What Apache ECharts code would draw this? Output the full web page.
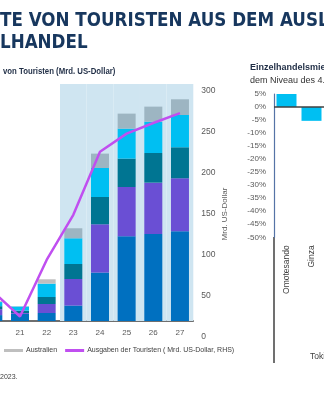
<!DOCTYPE html>
<html>
<head>
<meta charset="utf-8">
<script src="https://cdn.jsdelivr.net/npm/echarts@6/dist/echarts.min.js"></script>
<style>
  html, body { margin: 0; padding: 0; background: #ffffff; overflow: hidden; width: 324px; height: 400px; position: relative; }
  /* the drawing surface starts a little left of the page so the 2020 column sits partly off-edge */
  #chart { position: absolute; left: -20px; top: 0; width: 344px; height: 400px; }
</style>
</head>
<body>
<div id="chart"></div>
<script>
// Tourist arrivals by origin (stacked bars) and tourist spending (line, RHS)
const years = ['20', '21', '22', '23', '24', '25', '26', '27'];
const forecastYears = ['23', '24', '25', '26', '27'];
const china     = [1.0, 1.2, 1.35, 2.6, 8.17, 14.3, 14.68, 15.14];
const korea     = [1.0, 0.15, 1.52, 4.49, 8.15, 8.32, 8.67, 8.95];
const taiwan    = [0.5, 0.4, 1.18, 2.53, 4.61, 4.79, 5.0, 5.23];
const hongkong  = [0.7, 0.7, 2.26, 4.34, 4.89, 5.06, 5.3, 5.45];
const australia = [0.15, 0.05, 0.73, 1.69, 2.43, 2.53, 2.53, 2.65];
const spending  = [55, 25, 94, 149, 226, 248, 261, 273];
const spendingTicks = { min: 0, max: 300, step: 50 };
const arrivalsMax = 40;

// Retail rents vs. Q4 level, Tokyo districts (%)
const districts = ['Omotesando', 'Ginza'];
const rentChange = [5.5, -5.3];
const rentTicks = { min: -50, max: 5, step: 5 };

const OFF = 20; // page x = chart x - OFF
const sans = "'Liberation Sans', Arial, sans-serif";
const axisGray = '#595959';

const colors = {
  china: '#0070C0',
  korea: '#6A4FD4',
  taiwan: '#007592',
  hongkong: '#00BFF2',
  australia: '#BFBFBF',
  australiaShaded: '#9DB5C2',
  shade: '#CFE5F1',
  line: '#C04FF0'
};

const chart = echarts.init(document.getElementById('chart'), null, { renderer: 'canvas' });

function stackSeries(name, data, color) {
  return {
    name, type: 'bar', stack: 'arrivals', xAxisIndex: 0, yAxisIndex: 0,
    barWidth: 18, data, itemStyle: { color }, z: 3, silent: true
  };
}

const option = {
  animation: false,
  backgroundColor: '#ffffff',
  grid: [
    { left: 0, width: 213.3, top: 84, height: 237 },
    { left: 0, width: 213.3, top: 91, height: 246 },
    { left: 274 + OFF, width: 60, top: 94, height: 143.3 }
  ],
  xAxis: [
    {
      gridIndex: 0, type: 'category', data: years,
      axisLine: { lineStyle: { color: '#404040', width: 1.5 } },
      axisTick: { show: false },
      axisLabel: { color: axisGray, fontSize: 8, fontFamily: sans, margin: 8 }
    },
    { gridIndex: 0, type: 'category', data: years, show: false },
    { gridIndex: 1, type: 'category', data: years, show: false },
    {
      gridIndex: 2, type: 'category', data: districts,
      axisLine: { show: false }, axisTick: { show: false },
      axisLabel: { rotate: 90, color: '#404040', fontSize: 8.5, fontFamily: sans, margin: 8 }
    }
  ],
  yAxis: [
    { gridIndex: 0, type: 'value', min: 0, max: arrivalsMax, show: false },
    {
      gridIndex: 1, type: 'value', position: 'right',
      min: spendingTicks.min, max: spendingTicks.max, interval: spendingTicks.step,
      axisLine: { show: false }, axisTick: { show: false }, splitLine: { show: false },
      axisLabel: { color: axisGray, fontSize: 8.5, fontFamily: sans, margin: 8 },
      name: 'Mrd. US-Dollar', nameLocation: 'middle', nameRotate: 90, nameGap: 27,
      nameMoveOverlap: false,
      nameTextStyle: { color: axisGray, fontSize: 8, fontFamily: sans }
    },
    {
      gridIndex: 2, type: 'value',
      min: rentTicks.min, max: rentTicks.max, interval: rentTicks.step,
      axisLine: { show: true, lineStyle: { color: '#5573A6', width: 1.2 } },
      axisTick: { show: false }, splitLine: { show: false },
      axisLabel: { color: axisGray, fontSize: 8, fontFamily: sans, margin: 8, formatter: '{value}%' }
    }
  ],
  legend: {
    left: 4 + OFF, top: 347, itemWidth: 19, itemHeight: 3, itemGap: 8, padding: 0,
    icon: 'rect',
    textStyle: { color: '#404040', fontSize: 7, fontFamily: sans, padding: [0, 0, 0, -2] },
    data: ['Australien', 'Ausgaben der Touristen ( Mrd. US-Dollar, RHS)']
  },
  series: [
    {
      name: 'Prognose', type: 'bar', xAxisIndex: 1, yAxisIndex: 0, barWidth: '100%',
      data: years.map(y => forecastYears.includes(y) ? arrivalsMax : '-'),
      itemStyle: { color: colors.shade }, z: 1, silent: true
    },
    stackSeries('China', china, colors.china),
    stackSeries('Südkorea', korea, colors.korea),
    stackSeries('Taiwan', taiwan, colors.taiwan),
    stackSeries('Hongkong', hongkong, colors.hongkong),
    stackSeries('Australien', australia.map((v, i) => ({
      value: v,
      itemStyle: { color: forecastYears.includes(years[i]) ? colors.australiaShaded : colors.australia }
    })), colors.australia),
    {
      name: 'Ausgaben der Touristen ( Mrd. US-Dollar, RHS)', type: 'line',
      xAxisIndex: 2, yAxisIndex: 1, data: spending, showSymbol: false, symbol: 'none',
      lineStyle: { color: colors.line, width: 2.5 }, itemStyle: { color: colors.line },
      z: 5, silent: true
    },
    {
      name: 'Mietveränderung', type: 'bar', xAxisIndex: 3, yAxisIndex: 2,
      barWidth: 20, data: rentChange, itemStyle: { color: '#00BFF2' }, z: 3, silent: true,
      markLine: {
        silent: true, symbol: 'none', label: { show: false },
        lineStyle: { color: '#404040', width: 1.5, type: 'solid' },
        data: [{ yAxis: 0 }]
      }
    }
  ],
  graphic: [
    {
      type: 'text', left: OFF, top: 12,
      style: { text: 'TE VON TOURISTEN AUS DEM AUSLAND', fill: '#17375E',
               font: "bold 18.6px 'DejaVu Sans Condensed', 'DejaVu Sans', sans-serif" }
    },
    {
      type: 'text', left: OFF, top: 34,
      style: { text: 'LHANDEL', fill: '#17375E',
               font: "bold 18.6px 'DejaVu Sans Condensed', 'DejaVu Sans', sans-serif" }
    },
    {
      type: 'text', x: 3 + OFF, y: 66, scaleX: 0.82,
      style: { text: 'von Touristen (Mrd. US-Dollar)', fill: '#1F2D45',
               font: "bold 9.5px " + sans }
    },
    {
      type: 'text', left: 250 + OFF, top: 63,
      style: { text: 'Einzelhandelsmieten', fill: '#1F2D45', font: "bold 9px " + sans }
    },
    {
      type: 'text', left: 250 + OFF, top: 76,
      style: { text: 'dem Niveau des 4. Quartals', fill: '#333333', font: "9px " + sans }
    },
    {
      type: 'line', silent: true,
      shape: { x1: 274 + OFF, y1: 237, x2: 274 + OFF, y2: 363 },
      style: { stroke: '#404040', lineWidth: 1.5 }
    },
    {
      type: 'text', left: 310 + OFF, top: 352,
      style: { text: 'Tokio', fill: '#404040', font: "8.5px " + sans }
    },
    {
      type: 'text', left: OFF, top: 374,
      style: { text: '2023.', fill: '#404040', font: "7px " + sans }
    }
  ]
};

chart.setOption(option);
</script>
</body>
</html>
